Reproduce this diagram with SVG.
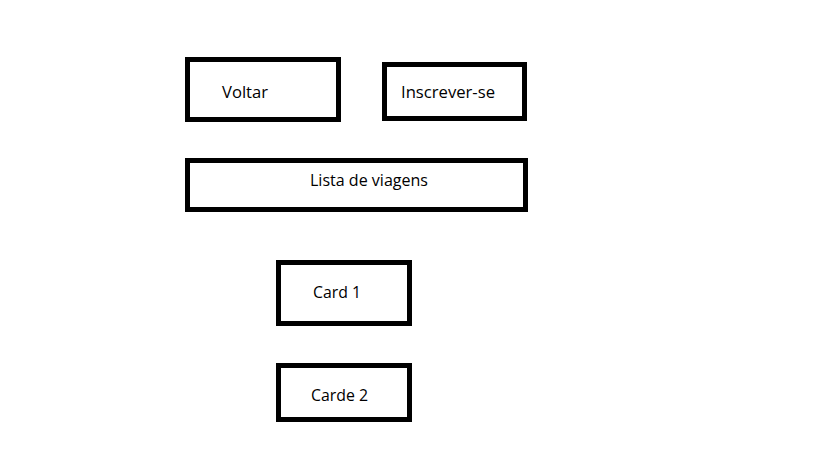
<svg xmlns="http://www.w3.org/2000/svg" width="819" height="460" viewBox="0 0 819 460">
<style>
.box{fill:#fff;stroke:#000;stroke-width:5}
.lbl{font-family:"Open Sans","Noto Sans",sans-serif;font-size:16px;fill:#000}
</style>
<rect width="819" height="460" fill="#fff"/>
<g id="voltar"><rect class="box" x="187.5" y="59.5" width="151" height="60"/><text class="lbl" x="222" y="98" textLength="46" lengthAdjust="spacingAndGlyphs">Voltar</text></g>
<g id="inscrever"><rect class="box" x="384.5" y="64.5" width="140" height="54"/><text class="lbl" x="401" y="98" textLength="94" lengthAdjust="spacingAndGlyphs">Inscrever-se</text></g>
<g id="lista"><rect class="box" x="187.5" y="160.5" width="338" height="49"/><text class="lbl" x="310" y="186" textLength="118" lengthAdjust="spacingAndGlyphs">Lista de viagens</text></g>
<g id="card1"><rect class="box" x="278.5" y="262.5" width="131" height="61"/><text class="lbl" x="313" y="298" textLength="48" lengthAdjust="spacingAndGlyphs">Card 1</text></g>
<g id="card2"><rect class="box" x="278.5" y="365.5" width="131" height="54"/><text class="lbl" x="311" y="401" textLength="57" lengthAdjust="spacingAndGlyphs">Carde 2</text></g>
<g id="connectors"/>
</svg>
